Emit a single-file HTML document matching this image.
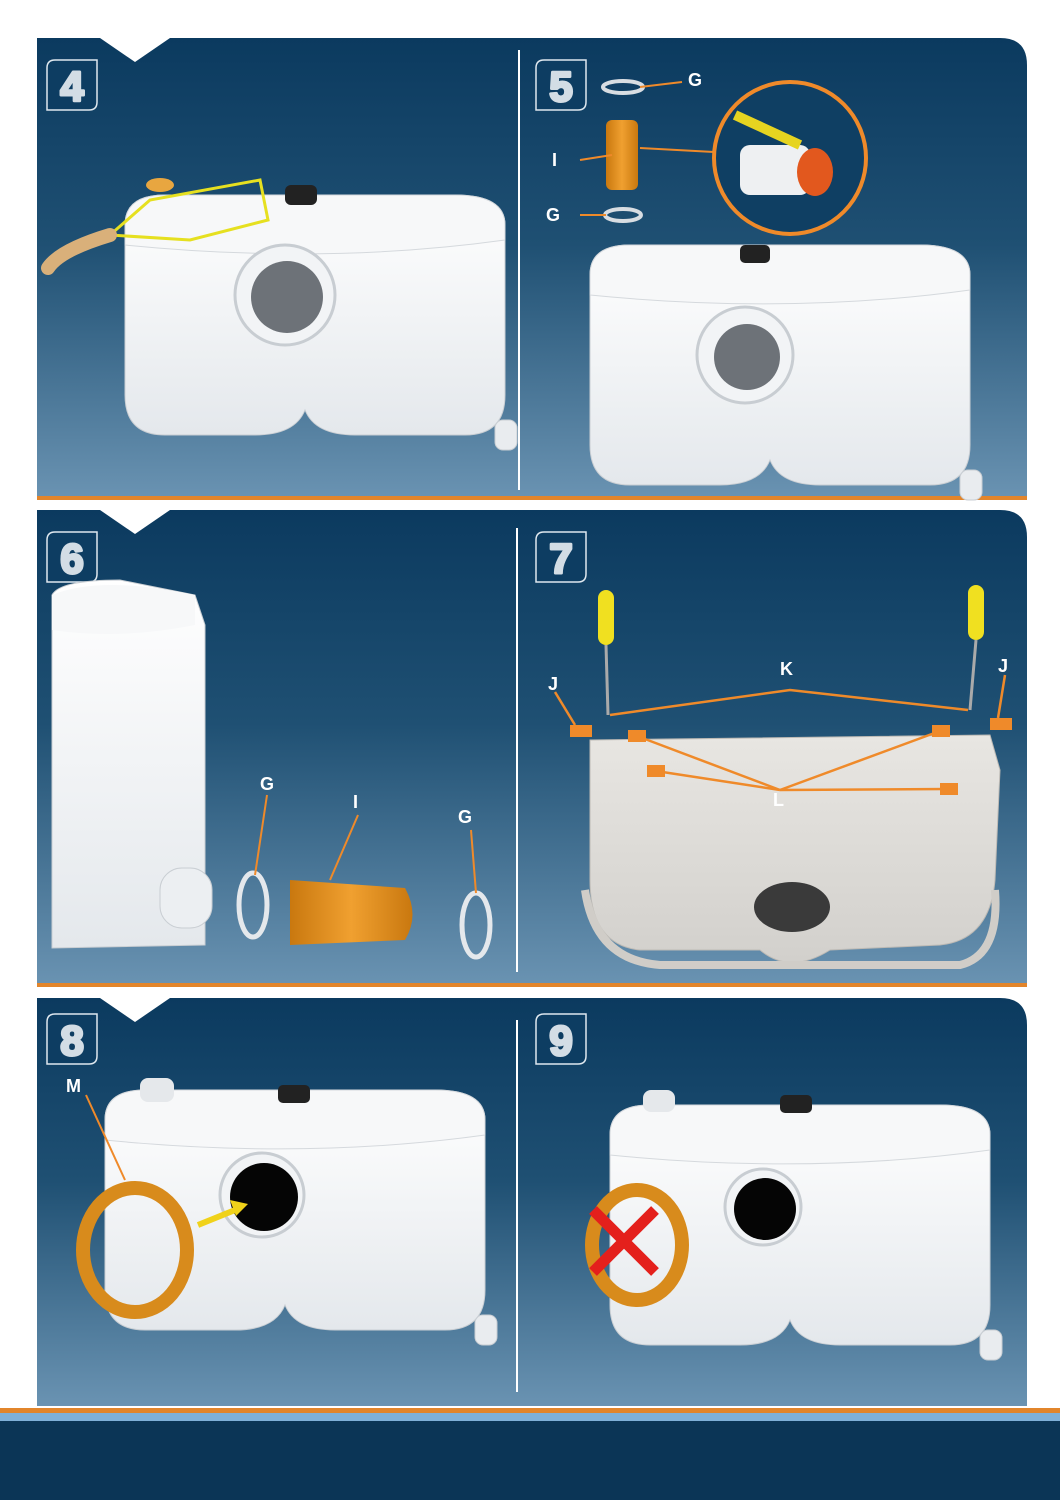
<!DOCTYPE html>
<html><head><meta charset="utf-8"><style>
html,body{margin:0;padding:0;background:#fff}
svg{display:block}
text{font-family:"Liberation Sans",sans-serif;font-weight:bold}
</style></head><body>
<svg width="1060" height="1500" viewBox="0 0 1060 1500" xmlns="http://www.w3.org/2000/svg">
<defs>
<linearGradient id="bg" x1="0" y1="0" x2="0" y2="1">
<stop offset="0" stop-color="#0b3a5f"/><stop offset="0.45" stop-color="#1f5073"/><stop offset="1" stop-color="#6a93b2"/>
</linearGradient>
<linearGradient id="wb" x1="0" y1="0" x2="0" y2="1">
<stop offset="0" stop-color="#ffffff"/><stop offset="1" stop-color="#e4e8ec"/>
</linearGradient>
<linearGradient id="gb" x1="0" y1="0" x2="0" y2="1">
<stop offset="0" stop-color="#e8e6e2"/><stop offset="1" stop-color="#d2d0cc"/>
</linearGradient>
<linearGradient id="or" x1="0" y1="0" x2="1" y2="0">
<stop offset="0" stop-color="#c9780f"/><stop offset="0.5" stop-color="#f0a030"/><stop offset="1" stop-color="#c9780f"/>
</linearGradient>
<g id="unit">
<path d="M0,30 Q0,0 40,0 L330,0 Q380,0 380,30 L380,200 Q380,240 340,240 L230,240 Q190,240 180,215 Q170,240 130,240 L40,240 Q0,240 0,200 Z" fill="url(#wb)" stroke="#c9ced3"/>
<path d="M0,30 Q0,0 40,0 L330,0 Q380,0 380,30 L380,45 Q200,70 0,50 Z" fill="#f7f8f9" stroke="#d5d9dd"/>
<rect x="370" y="225" width="22" height="30" rx="8" fill="#e9ecef" stroke="#c9ced3"/>
</g>
<g id="num"><path d="M8,0 L50,0 L50,42 Q50,50 42,50 L0,50 L0,8 Q0,0 8,0 Z" fill="#0d3d62" stroke="#dfe8ef" stroke-width="1.5"/></g>
</defs>

<path d="M37,38 L100,38 L135,62 L170,38 L1000,38 Q1027,38 1027,65 L1027,498 L37,498 Z" fill="url(#bg)"/>
<rect x="37" y="496" width="990" height="4" fill="#e2852b"/>
<path d="M37,510 L100,510 L135,534 L170,510 L1000,510 Q1027,510 1027,537 L1027,985 L37,985 Z" fill="url(#bg)"/>
<rect x="37" y="983" width="990" height="4" fill="#e2852b"/>
<path d="M37,998 L100,998 L135,1022 L170,998 L1000,998 Q1027,998 1027,1025 L1027,1406 L37,1406 Z" fill="url(#bg)"/>
<line x1="519" y1="50" x2="519" y2="490" stroke="#fff" stroke-width="2"/>
<line x1="517" y1="528" x2="517" y2="972" stroke="#fff" stroke-width="2"/>
<line x1="517" y1="1020" x2="517" y2="1392" stroke="#fff" stroke-width="2"/>
<rect x="0" y="1408" width="1060" height="5" fill="#e2852b"/>
<rect x="0" y="1413" width="1060" height="8" fill="#7fb0d8"/>
<rect x="0" y="1421" width="1060" height="79" fill="#0b3556"/>

<use href="#num" x="47" y="60"/><use href="#num" x="536" y="60"/>
<use href="#num" x="47" y="532"/><use href="#num" x="536" y="532"/>
<use href="#num" x="47" y="1014"/><use href="#num" x="536" y="1014"/>
<g font-size="42" text-anchor="middle" fill="#d3dde5" stroke="#d3dde5" stroke-width="3" stroke-linejoin="round">
<text x="72" y="101">4</text>
<text x="561" y="101">5</text>
<text x="72" y="573">6</text>
<text x="561" y="573">7</text>
<text x="72" y="1055">8</text>
<text x="561" y="1055">9</text>
</g>

<use href="#unit" x="125" y="195"/>
<circle cx="285" cy="295" r="50" fill="#f2f4f6" stroke="#c8cdd2" stroke-width="3"/>
<circle cx="287" cy="297" r="36" fill="#6d7278"/>
<rect x="285" y="185" width="32" height="20" rx="6" fill="#222"/>
<ellipse cx="160" cy="185" rx="14" ry="7" fill="#e8a640"/>
<path d="M110,235 L150,200 L260,180 L268,220 L190,240 Z" fill="none" stroke="#e6e020" stroke-width="3"/>
<path d="M48,268 Q60,250 110,235" stroke="#d9b07a" stroke-width="14" stroke-linecap="round" fill="none"/>
<use href="#unit" x="590" y="245"/>
<circle cx="745" cy="355" r="48" fill="#f2f4f6" stroke="#c8cdd2" stroke-width="3"/>
<circle cx="747" cy="357" r="33" fill="#6d7278"/>
<rect x="740" y="245" width="30" height="18" rx="5" fill="#222"/>
<ellipse cx="623" cy="87" rx="20" ry="6" fill="none" stroke="#d8dde2" stroke-width="4"/>
<ellipse cx="623" cy="215" rx="18" ry="6" fill="none" stroke="#d8dde2" stroke-width="4"/>
<rect x="606" y="120" width="32" height="70" rx="6" fill="url(#or)"/>
<circle cx="790" cy="158" r="76" fill="#0f3f63" stroke="#ef8a2a" stroke-width="4"/>
<rect x="740" y="145" width="70" height="50" rx="10" fill="#eef0f2"/>
<ellipse cx="815" cy="172" rx="18" ry="24" fill="#e2581e"/>
<path d="M735,115 L800,145" stroke="#e6d420" stroke-width="10"/>
<g stroke="#ef8a2a" stroke-width="2" fill="none">
<line x1="640" y1="87" x2="682" y2="82"/><line x1="580" y1="160" x2="612" y2="155"/>
<line x1="580" y1="215" x2="606" y2="215"/><line x1="640" y1="148" x2="714" y2="152"/></g>
<g fill="#fff" font-size="18"><text x="688" y="86">G</text><text x="552" y="166">I</text><text x="546" y="221">G</text></g>

<path d="M52,595 Q60,580 120,580 L195,595 L205,625 L205,945 L52,948 Z" fill="url(#wb)" stroke="#c9ced3"/>
<path d="M52,595 Q100,575 195,595 L195,625 Q120,640 52,630 Z" fill="#f7f8f9"/>
<rect x="160" y="868" width="52" height="60" rx="22" fill="#eceff2" stroke="#c9ced3"/>
<ellipse cx="253" cy="905" rx="14" ry="32" fill="none" stroke="#e4e8ec" stroke-width="5"/>
<ellipse cx="476" cy="925" rx="14" ry="32" fill="none" stroke="#e4e8ec" stroke-width="5"/>
<path d="M290,880 L405,888 Q420,915 405,940 L290,945 Z" fill="url(#or)"/>
<g stroke="#ef8a2a" stroke-width="2" fill="none"><line x1="267" y1="795" x2="255" y2="875"/><line x1="358" y1="815" x2="330" y2="880"/><line x1="471" y1="830" x2="476" y2="893"/></g>
<g fill="#fff" font-size="18"><text x="260" y="790">G</text><text x="353" y="808">I</text><text x="458" y="823">G</text></g>

<path d="M590,740 L990,735 L1000,770 L995,880 Q990,940 940,945 L830,950 Q790,975 760,950 L640,950 Q590,945 590,880 Z" fill="url(#gb)" stroke="#bdbab5"/>
<path d="M585,890 Q595,960 660,965 L960,965 Q1000,955 995,890" fill="none" stroke="#d0cdc8" stroke-width="8"/>
<ellipse cx="792" cy="907" rx="38" ry="25" fill="#3a3a3a"/>
<rect x="598" y="590" width="16" height="55" rx="8" fill="#f0e020"/>
<rect x="968" y="585" width="16" height="55" rx="8" fill="#f0e020"/>
<line x1="606" y1="645" x2="608" y2="715" stroke="#aaa" stroke-width="3"/>
<line x1="976" y1="640" x2="970" y2="710" stroke="#aaa" stroke-width="3"/>
<g fill="#ef8a2a"><rect x="570" y="725" width="22" height="12"/><rect x="990" y="718" width="22" height="12"/>
<rect x="628" y="730" width="18" height="12"/><rect x="932" y="725" width="18" height="12"/>
<rect x="647" y="765" width="18" height="12"/><rect x="940" y="783" width="18" height="12"/></g>
<g stroke="#ef8a2a" stroke-width="2.5" fill="none">
<polyline points="610,715 790,690 968,710"/>
<line x1="637" y1="736" x2="780" y2="790"/><line x1="940" y1="731" x2="780" y2="790"/>
<line x1="656" y1="771" x2="780" y2="790"/><line x1="948" y1="789" x2="780" y2="790"/>
<line x1="555" y1="692" x2="575" y2="725"/><line x1="1005" y1="675" x2="998" y2="718"/></g>
<g fill="#fff" font-size="18"><text x="780" y="675">K</text><text x="548" y="690">J</text><text x="998" y="672">J</text><text x="773" y="806">L</text></g>

<use href="#unit" x="105" y="1090"/>
<circle cx="262" cy="1195" r="42" fill="#f2f4f6" stroke="#c8cdd2" stroke-width="3"/>
<circle cx="264" cy="1197" r="34" fill="#050505"/>
<rect x="140" y="1078" width="34" height="24" rx="8" fill="#e5e8eb"/>
<rect x="278" y="1085" width="32" height="18" rx="5" fill="#222"/>
<ellipse cx="135" cy="1250" rx="52" ry="62" fill="none" stroke="#d88b1c" stroke-width="14"/>
<path d="M198,1225 L240,1208" stroke="#f0d21a" stroke-width="6"/>
<polygon points="248,1204 230,1200 236,1216" fill="#f0d21a"/>
<line x1="86" y1="1095" x2="125" y2="1180" stroke="#ef8a2a" stroke-width="2"/>
<text x="66" y="1092" font-size="18" fill="#fff">M</text>

<use href="#unit" x="610" y="1105"/>
<circle cx="763" cy="1207" r="38" fill="#f2f4f6" stroke="#c8cdd2" stroke-width="3"/>
<circle cx="765" cy="1209" r="31" fill="#050505"/>
<rect x="643" y="1090" width="32" height="22" rx="8" fill="#e5e8eb"/>
<rect x="780" y="1095" width="32" height="18" rx="5" fill="#222"/>
<ellipse cx="637" cy="1245" rx="45" ry="55" fill="none" stroke="#d88b1c" stroke-width="14"/>
<path d="M593,1210 L655,1272 M655,1210 L593,1272" stroke="#e4201c" stroke-width="11"/>
</svg>
</body></html>
